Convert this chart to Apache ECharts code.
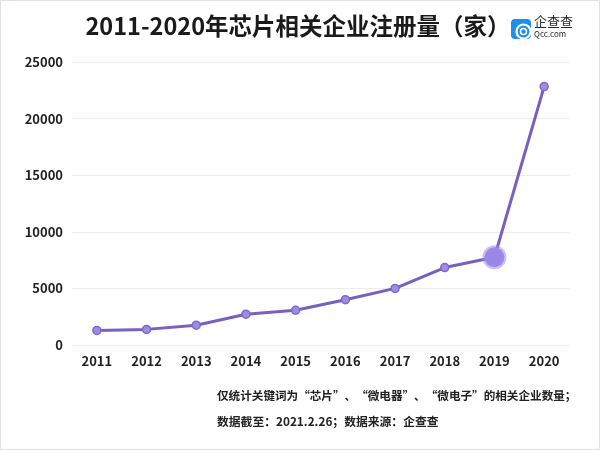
<!DOCTYPE html>
<html><head><meta charset="utf-8">
<script src="https://cdn.jsdelivr.net/npm/echarts@6/dist/echarts.min.js"></script>
<style>html,body{margin:0;padding:0;background:#fff}#c{width:600px;height:450px;box-sizing:border-box;border:1px solid #e4e0ea}</style>
</head><body><div id="c"></div>
<script>
const years = ['2011','2012','2013','2014','2015','2016','2017','2018','2019','2020'];
const registrations = [1290, 1380, 1750, 2720, 3070, 4000, 5000, 6840, 7750, 22830];
const yTicks = [0, 5000, 10000, 15000, 20000, 25000];
const titleText = '2011-2020年芯片相关企业注册量（家）';
const noteLines = ['仅统计关键词为“芯片”、“微电器”、“微电子”的相关企业数量；', '数据截至：2021.2.26；数据来源：企查查'];
const highlightIndex = 8;

const font = '"Noto Sans CJK SC", "Noto Sans", sans-serif';
const chart = echarts.init(document.getElementById('c'));
const dataPts = registrations.map((v, i) => i === highlightIndex ? {
  value: v, symbolSize: 20,
  itemStyle: {color: '#9a86e6', borderColor: 'rgba(160,140,235,0.55)', borderWidth: 4}
} : v);
chart.setOption({
  animation: false,
  title: {text: titleText, left: 292, top: 8, textAlign: 'center',
    textStyle: {fontFamily: font, fontSize: 23.5, fontWeight: 'bold', color: '#1a1a1a'}},
  grid: {left: 71, right: 30, top: 61, bottom: 104},
  xAxis: {type: 'category', data: years, boundaryGap: true,
    axisLine: {show: false}, axisTick: {show: false},
    axisLabel: {margin: 10, fontFamily: font, fontSize: 13, fontWeight: 'bold', color: '#222'}},
  yAxis: {type: 'value', min: yTicks[0], max: yTicks[yTicks.length-1], interval: yTicks[1]-yTicks[0],
    axisLine: {show: false}, axisTick: {show: false},
    splitLine: {lineStyle: {color: '#ececec', width: 1}},
    axisLabel: {margin: 9, fontFamily: font, fontSize: 13, fontWeight: 'bold', color: '#222',
      formatter: v => String(v)}},
  series: [{type: 'line', data: dataPts, symbol: 'circle', symbolSize: 8,
    lineStyle: {color: '#7760c0', width: 3},
    itemStyle: {color: '#9f8ce0', borderColor: '#7f69cc', borderWidth: 1.5}}],
  graphic: [
    {type: 'rect', left: 510, top: 18, shape: {width: 20, height: 20, r: 4}, style: {fill: '#1e8fe8'}},
    {type: 'circle', left: 513, top: 21, shape: {r: 7}, style: {fill: 'none', stroke: '#fff', lineWidth: 2.2}},
    {type: 'circle', left: 517, top: 25, shape: {r: 3}, style: {fill: 'none', stroke: '#fff', lineWidth: 1.6}},
    {type: 'text', left: 533, top: 14, style: {text: '企查查', font: '13px ' + font, fill: '#2a2a2a'}},
    {type: 'text', left: 533, top: 29, style: {text: 'Qcc.com', font: '8px ' + font, fill: '#2a2a2a', textLetterSpacing: 0.8}},
    {type: 'text', left: 216, top: 389, style: {text: noteLines[0], font: 'bold 11.6px ' + font, fill: '#222'}},
    {type: 'text', left: 216, top: 415, style: {text: noteLines[1], font: 'bold 11.8px ' + font, fill: '#222'}}
  ]
});
</script></body></html>
